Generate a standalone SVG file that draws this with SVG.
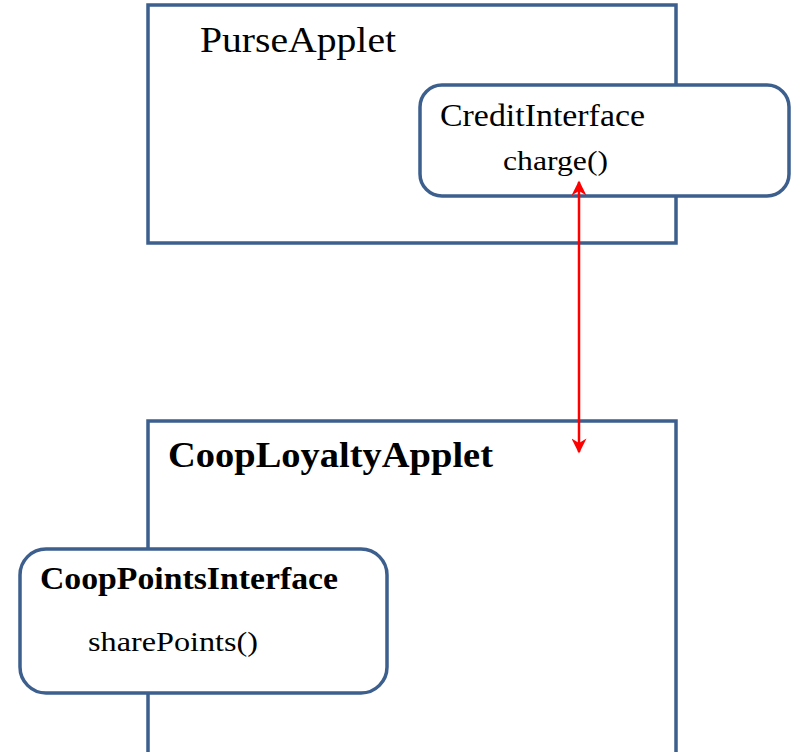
<svg xmlns="http://www.w3.org/2000/svg" width="792" height="752" viewBox="0 0 792 752">
<style>
.box{fill:#ffffff;stroke:#3d5f8d;stroke-width:3.5}
.t{font-family:"Liberation Serif","Times New Roman",serif;fill:#000}
.b{font-weight:bold}
.conn{stroke:#ff0000;stroke-width:2.5;fill:none}
</style>
<defs>
<marker id="ah" viewBox="0 0 10 10" refX="9" refY="5" markerWidth="7" markerHeight="6" orient="auto-start-reverse" markerUnits="strokeWidth">
<path d="M0,0 L10,5 L0,10 L3,5 Z" fill="#ff0000"/>
</marker>
</defs>
<rect width="792" height="752" fill="#ffffff"/>
<g id="purseApplet">
<rect class="box" x="148" y="5" width="528" height="238"/>
<text class="t" x="200" y="52" font-size="36" textLength="196" lengthAdjust="spacingAndGlyphs">PurseApplet</text>
</g>
<g id="creditInterface">
<rect class="box" x="420" y="85" width="369" height="111" rx="22" ry="22"/>
<text class="t" x="440" y="126" font-size="31" textLength="205" lengthAdjust="spacingAndGlyphs">CreditInterface</text>
<text class="t" x="503" y="170" font-size="28" textLength="105" lengthAdjust="spacingAndGlyphs">charge()</text>
</g>
<g id="coopLoyaltyApplet">
<rect class="box" x="148" y="421" width="528" height="345"/>
<text class="t b" x="168" y="467" font-size="35" textLength="325" lengthAdjust="spacingAndGlyphs">CoopLoyaltyApplet</text>
</g>
<g id="coopPointsInterface">
<rect class="box" x="20" y="549" width="367" height="144" rx="26" ry="26"/>
<text class="t b" x="40" y="589" font-size="31" textLength="298" lengthAdjust="spacingAndGlyphs">CoopPointsInterface</text>
<text class="t" x="88" y="651" font-size="28" textLength="170" lengthAdjust="spacingAndGlyphs">sharePoints()</text>
</g>
<g id="connectors">
<line class="conn" x1="579" y1="182" x2="579" y2="452" marker-start="url(#ah)" marker-end="url(#ah)"/>
</g>
</svg>
